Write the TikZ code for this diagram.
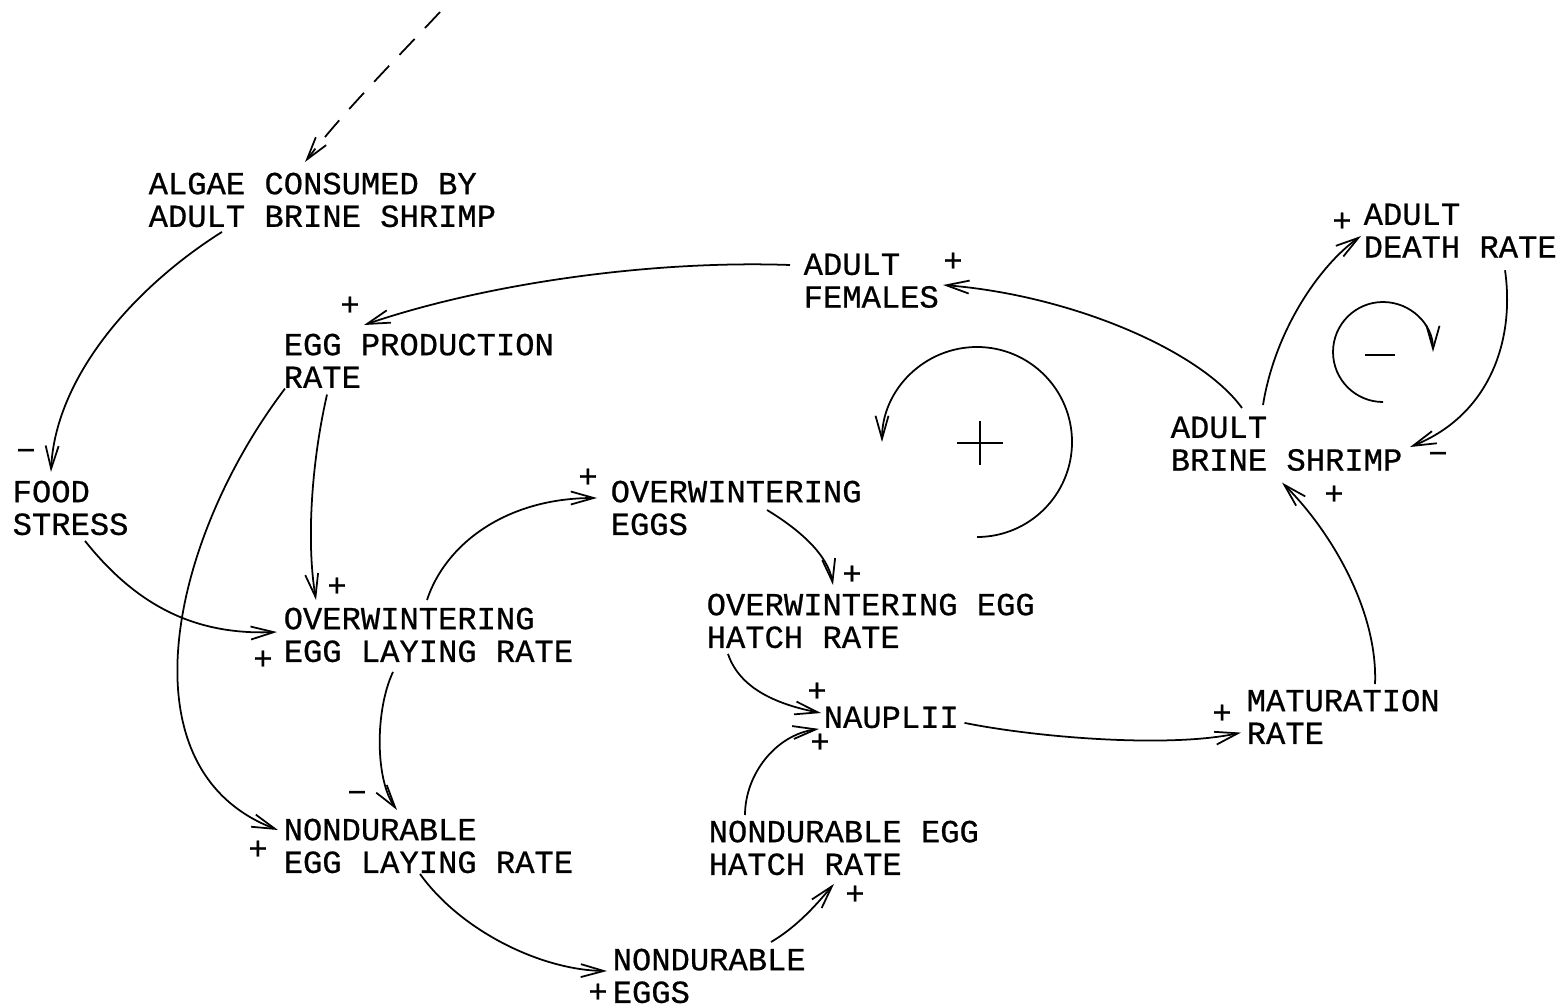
\documentclass[tikz,border=0pt]{standalone}
\usepackage{fontspec}
\usepackage{xcolor}
\usetikzlibrary{arrows.meta,positioning,calc}
\newfontfamily\plotfont[FakeBold=0.6]{Liberation Mono}

\begin{document}
\begin{tikzpicture}[x=0.1mm,y=0.1mm,
  var/.style={anchor=north west,inner sep=0pt,align=left,font=\plotfont\fontsize{9.15}{9.3}\selectfont},
  sgn/.style={inner sep=0pt,font=\plotfont\fontsize{9.15}{9.3}\selectfont},
  link/.style={line width=0.5pt,-{Straight Barb[length=2.3mm,width=1.3mm]}},
  loopsgn/.style={line width=0.5pt}]
  \useasboundingbox (0,0) rectangle (1561,-1007);
  % variables
  \node[var] (algae)   at (148,-172)  {ALGAE CONSUMED BY\\ADULT BRINE SHRIMP};
  \node[var] (eggprod) at (283,-333)  {EGG PRODUCTION\\RATE};
  \node[var] (food)    at (12,-480)   {FOOD\\STRESS};
  \node[var] (owlay)   at (283,-607)  {OVERWINTERING\\EGG LAYING RATE};
  \node[var] (ndlay)   at (283,-818)  {NONDURABLE\\EGG LAYING RATE};
  \node[var] (oweggs)  at (610,-480)  {OVERWINTERING\\EGGS};
  \node[var] (owhatch) at (706,-593)  {OVERWINTERING EGG\\HATCH RATE};
  \node[var] (nauplii) at (823,-706)  {NAUPLII};
  \node[var] (ndhatch) at (708,-820)  {NONDURABLE EGG\\HATCH RATE};
  \node[var] (ndeggs)  at (612,-948)  {NONDURABLE\\EGGS};
  \node[var] (matur)   at (1246,-689) {MATURATION\\RATE};
  \node[var] (adults)  at (1170,-416) {ADULT\\BRINE SHRIMP};
  \node[var] (death)   at (1363,-203) {ADULT\\DEATH RATE};
  \node[var] (females) at (803,-253)  {ADULT\\FEMALES};
  \coordinate (lake) at (440,-12);
  % links
  \draw[link,dash pattern=on 2.2mm off 1.5mm] (lake) .. controls (400,-55) and (345,-110) .. ([shift={(157,10)}]algae.north west);
  \draw[link] ([shift={(74,-4)}]algae.south west) .. controls (130,-290) and (55,-380) .. ([shift={(39,8)}]food.north west);
  \draw[link] ([shift={(-13,-12)}]females.north west) .. controls (650,-260) and (484,-284) .. ([shift={(81,8)}]eggprod.north west);
  \draw[link] ([shift={(44,-6)}]eggprod.south west) .. controls (312,-460) and (306,-540) .. ([shift={(33,7)}]owlay.north west);
  \draw[link] ([shift={(2,0)}]eggprod.south west) .. controls (170,-540) and (120,-770) .. ([shift={(-5,-12)}]ndlay.north west);
  \draw[link] ([shift={(73,-5)}]food.south west) .. controls (140,-610) and (200,-635) .. ([shift={(-6,-25)}]owlay.north west);
  \draw[link] ([shift={(144,7)}]owlay.north west) .. controls (445,-545) and (505,-498) .. ([shift={(-13,-18)}]oweggs.north west);
  \draw[link] ([shift={(110,-9)}]owlay.south west) .. controls (375,-710) and (375,-780) .. ([shift={(114,8)}]ndlay.north west);
  \draw[link] ([shift={(137,0)}]ndlay.south west) .. controls (460,-930) and (540,-970) .. ([shift={(-5,-23)}]ndeggs.north west);
  \draw[link] ([shift={(159,6)}]ndeggs.north west) .. controls (800,-925) and (820,-900) .. ([shift={(126,-8)}]ndhatch.south west);
  \draw[link] ([shift={(37,5)}]ndhatch.north west) .. controls (745,-775) and (775,-735) .. ([shift={(-4,0)}]nauplii.south west);
  \draw[link] ([shift={(22,-5)}]owhatch.south west) .. controls (740,-690) and (780,-705) .. ([shift={(-2,-7)}]nauplii.north west);
  \draw[link] ([shift={(157,-30)}]oweggs.north west) .. controls (800,-530) and (828,-555) .. ([shift={(127,8)}]owhatch.north west);
  \draw[link] ([shift={(5,6)}]nauplii.south east) .. controls (1040,-738) and (1170,-748) .. ([shift={(-5,12)}]matur.south west);
  \draw[link] ([shift={(129,5)}]matur.north west) .. controls (1378,-610) and (1330,-530) .. ([shift={(112,-11)}]adults.south west);
  \draw[link] ([shift={(72,8)}]adults.north west) .. controls (1200,-350) and (1070,-295) .. ([shift={(140,-32)}]females.north west);
  \draw[link] ([shift={(93,11)}]adults.north west) .. controls (1275,-330) and (1320,-265) .. ([shift={(-2,-33)}]death.north west);
  \draw[link] ([shift={(142,-12)}]death.south west) .. controls (1515,-340) and (1490,-415) .. ([shift={(240,-31)}]adults.north west);
  % polarity signs
  \node[sgn] (s1)  at (26,-455)   {−};
  \node[sgn] (s2)  at (350,-306)  {+};
  \node[sgn] (s3)  at (337,-587)  {+};
  \node[sgn] (s4)  at (263,-660)  {+};
  \node[sgn] (s5)  at (588,-478)  {+};
  \node[sgn] (s6)  at (357,-797)  {−};
  \node[sgn] (s7)  at (258,-850)  {+};
  \node[sgn] (s8)  at (598,-993)  {+};
  \node[sgn] (s9)  at (855,-895)  {+};
  \node[sgn] (s10) at (852,-575)  {+};
  \node[sgn] (s11) at (817,-692)  {+};
  \node[sgn] (s12) at (820,-743)  {+};
  \node[sgn] (s13) at (1222,-714) {+};
  \node[sgn] (s14) at (1334,-495) {+};
  \node[sgn] (s15) at (1438,-458) {−};
  \node[sgn] (s16) at (1342,-222) {+};
  \node[sgn] (s17) at (953,-262)  {+};
  % loops
  \draw[link] (977,-537) arc[start angle=-90,end angle=180,radius=95];
  \draw[loopsgn] (957,-443) -- (1003,-443) (980,-421) -- (980,-465);
  \draw[link] (1383,-402) arc[start angle=270,end angle=0,radius=50];
  \draw[loopsgn] (1365,-355) -- (1395,-355);
\end{tikzpicture}
\end{document}
